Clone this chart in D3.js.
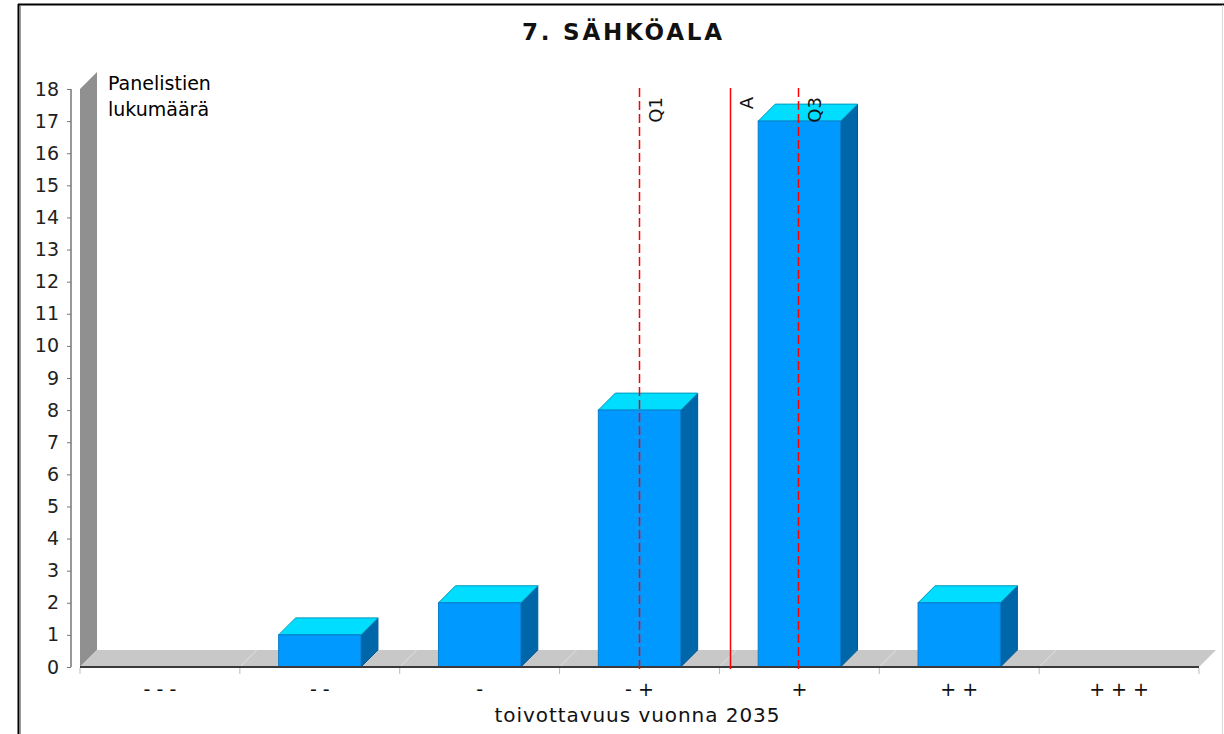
<!DOCTYPE html>
<html>
<head>
<meta charset="utf-8">
<script src="https://cdn.jsdelivr.net/npm/d3@7"></script>
<style>
  body { margin: 0; background: #fff; }
  svg { display: block; font-family: 'DejaVu Sans', sans-serif; }
</style>
</head>
<body>
<svg width="1224" height="734"></svg>
<script>
// data
var categories = ['- - -', '- -', '-', '- +', '+', '+ +', '+ + +'];
var counts = [0, 1, 2, 8, 17, 2, 0];
var yTicks = d3.range(0, 19);
// markers on the 1..7 scale
var markerNames = ['Q1', 'A', 'Q3'];
var markerValues = [4, 4.57, 5];
var markerDashed = [true, false, true];

var svg = d3.select('svg');
var depth = 17;
var plot = {l: 80, r: 1199, base: 667, top: 89};

var xBand = d3.scaleBand().domain(categories).range([plot.l, plot.r]);
var xLin = d3.scaleLinear().domain([0.5, 7.5]).range([plot.l, plot.r]);
var yScale = d3.scaleLinear().domain([0, 18]).range([plot.base, plot.top]);

// frame
svg.append('line').attr('x1', 18.5).attr('x2', 18.5).attr('y1', 4).attr('y2', 734)
  .attr('stroke', '#000').attr('stroke-width', 2);
svg.append('line').attr('x1', 20.5).attr('x2', 20.5).attr('y1', 6).attr('y2', 734)
  .attr('stroke', '#999').attr('stroke-width', 1);
svg.append('line').attr('x1', 18).attr('x2', 1224).attr('y1', 4.5).attr('y2', 4.5)
  .attr('stroke', '#000').attr('stroke-width', 2);
svg.append('line').attr('x1', 1222.5).attr('x2', 1222.5).attr('y1', 5).attr('y2', 734)
  .attr('stroke', '#d8d8d8').attr('stroke-width', 1);

// title
svg.append('text').attr('x', 622).attr('y', 40).attr('text-anchor', 'middle')
  .attr('font-size', 23).attr('font-weight', 'bold').attr('fill', '#111')
  .attr('textLength', 200).attr('lengthAdjust', 'spacing')
  .text('7. SÄHKÖALA');

// 3D wall and floor
var wallTop = yScale(18);
svg.append('polygon')
  .attr('points', [[plot.l, wallTop], [plot.l + depth, wallTop - depth], [plot.l + depth, plot.base - depth], [plot.l, plot.base]].join(' '))
  .attr('fill', '#909090');
svg.append('polygon')
  .attr('points', [[plot.l, plot.base], [plot.l + depth, plot.base - depth], [plot.r + depth, plot.base - depth], [plot.r, plot.base]].join(' '))
  .attr('fill', '#c8c8c8');

// floor grid diagonals at category boundaries
var bounds = categories.map(function(c) { return xBand(c); }).concat([plot.r]);
svg.append('g').selectAll('line').data(bounds.slice(1, -1)).enter().append('line')
  .attr('x1', function(d) { return d; }).attr('y1', plot.base)
  .attr('x2', function(d) { return d + depth; }).attr('y2', plot.base - depth)
  .attr('stroke', '#e2e2e2').attr('stroke-width', 1);

// y axis
var yAxis = d3.axisLeft(yScale).tickValues(yTicks).tickSize(4).tickPadding(8);
var yG = svg.append('g').attr('transform', 'translate(71,0)').call(yAxis);
yG.select('.domain').attr('stroke', '#333').attr('d', 'M0,' + plot.top + 'V' + plot.base);
yG.selectAll('.tick line').attr('stroke', '#777');
yG.selectAll('.tick text').attr('font-size', 19).attr('font-family', 'DejaVu Sans')
  .attr('fill', '#222');

svg.append('text').attr('x', 108).attr('y', 90).attr('font-size', 19).attr('fill', '#000')
  .text('Panelistien');
svg.append('text').attr('x', 108).attr('y', 116).attr('font-size', 19).attr('fill', '#000')
  .text('lukumäärä');

// bars: side, top, front
var barW = xBand.bandwidth() * 0.515;
var barG = svg.append('g').selectAll('g')
  .data(categories.map(function(c, i) { return {cat: c, v: counts[i]}; })
    .filter(function(d) { return d.v > 0; }))
  .enter().append('g');

function bx0(d) { return xBand(d.cat) + xBand.bandwidth() / 2 - barW / 2; }

barG.append('polygon')
  .attr('points', function(d) {
    var x1 = bx0(d) + barW, yt = yScale(d.v), yb = plot.base;
    return [[x1, yt], [x1 + depth, yt - depth], [x1 + depth, yb - depth], [x1, yb]].join(' ');
  })
  .attr('fill', '#0066aa').attr('stroke', '#005a96').attr('stroke-width', 1);
barG.append('polygon')
  .attr('points', function(d) {
    var x0 = bx0(d), x1 = x0 + barW, yt = yScale(d.v);
    return [[x0, yt], [x0 + depth, yt - depth], [x1 + depth, yt - depth], [x1, yt]].join(' ');
  })
  .attr('fill', '#00ddff').attr('stroke', '#0099bb').attr('stroke-width', 1);
barG.append('rect')
  .attr('x', bx0).attr('y', function(d) { return yScale(d.v); })
  .attr('width', barW).attr('height', function(d) { return plot.base - yScale(d.v); })
  .attr('fill', '#0099ff').attr('stroke', '#0a7ccc').attr('stroke-width', 1);

// x axis
svg.append('line').attr('x1', plot.l).attr('x2', plot.r).attr('y1', plot.base).attr('y2', plot.base)
  .attr('stroke', '#3a3a3a').attr('stroke-width', 2);
svg.append('g').selectAll('line').data(bounds).enter().append('line')
  .attr('x1', function(d) { return d; }).attr('x2', function(d) { return d; })
  .attr('y1', plot.base + 1).attr('y2', plot.base + 7)
  .attr('stroke', '#bbb').attr('stroke-width', 1);
svg.append('g').selectAll('text').data(categories).enter().append('text')
  .attr('x', function(d) { return xBand(d) + xBand.bandwidth() / 2; })
  .attr('y', 696).attr('text-anchor', 'middle').attr('font-size', 19).attr('fill', '#111')
  .attr('xml:space', 'preserve')
  .text(function(d) { return d; });

svg.append('text').attr('x', 637).attr('y', 722).attr('text-anchor', 'middle')
  .attr('font-size', 20).attr('fill', '#111')
  .attr('textLength', 285).attr('lengthAdjust', 'spacing')
  .text('toivottavuus vuonna 2035');

// marker lines
var mG = svg.append('g');
markerValues.forEach(function(v, i) {
  var x = Math.round(xLin(v)) - 0.5;
  mG.append('line').attr('x1', x).attr('x2', x).attr('y1', 88).attr('y2', plot.base + 2)
    .attr('stroke', '#ff0000').attr('stroke-width', 1.5)
    .attr('stroke-dasharray', markerDashed[i] ? '9,4' : null);
  mG.append('text')
    .attr('transform', 'translate(' + (x + 22) + ',97) rotate(-90)')
    .attr('text-anchor', 'end').attr('font-size', 18).attr('fill', '#111')
    .text(markerNames[i]);
});
</script>
</body>
</html>
